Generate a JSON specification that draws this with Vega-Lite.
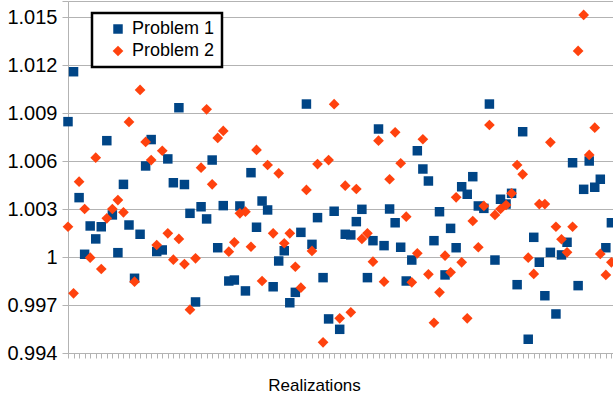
{
  "$schema": "https://vega.github.io/schema/vega-lite/v6.json",
  "autosize": "none",
  "width": 545,
  "height": 352,
  "padding": {"left": 68, "top": 1, "right": 0, "bottom": 45},
  "background": "white",
  "config": {
    "font": "Liberation Sans",
    "view": {"stroke": null},
    "legend": {"strokeWidth": 2.5},
    "axis": {"gridColor": "#b3b3b3", "domainColor": "#b3b3b3", "tickColor": "#b3b3b3", "labelColor": "#000000", "titleColor": "#000000", "labelFont": "Liberation Sans", "titleFont": "Liberation Sans"}
  },
  "data": {
    "values": [
      {"r":1,"Problem 1":1.00846,"Problem 2":1.00189},
      {"r":2,"Problem 1":1.01158,"Problem 2":0.99773},
      {"r":3,"Problem 1":1.00371,"Problem 2":1.00471},
      {"r":4,"Problem 1":1.00017,"Problem 2":1.003},
      {"r":5,"Problem 1":1.00194,"Problem 2":0.99996},
      {"r":6,"Problem 1":1.00113,"Problem 2":1.00621},
      {"r":7,"Problem 1":1.00189,"Problem 2":0.99925},
      {"r":8,"Problem 1":1.00727,"Problem 2":1.00242},
      {"r":9,"Problem 1":1.00263,"Problem 2":1.003},
      {"r":10,"Problem 1":1.00027,"Problem 2":1.00356},
      {"r":11,"Problem 1":1.00454,"Problem 2":1.00279},
      {"r":12,"Problem 1":1.002,"Problem 2":1.00844},
      {"r":13,"Problem 1":0.99867,"Problem 2":0.99846},
      {"r":14,"Problem 1":1.00142,"Problem 2":1.01044},
      {"r":15,"Problem 1":1.00569,"Problem 2":1.00719},
      {"r":16,"Problem 1":1.00734,"Problem 2":1.00606},
      {"r":17,"Problem 1":1.00034,"Problem 2":1.00075},
      {"r":18,"Problem 1":1.00044,"Problem 2":1.00664},
      {"r":19,"Problem 1":1.00613,"Problem 2":1.00148},
      {"r":20,"Problem 1":1.00464,"Problem 2":0.99983},
      {"r":21,"Problem 1":1.00933,"Problem 2":1.00113},
      {"r":22,"Problem 1":1.00453,"Problem 2":0.99956},
      {"r":23,"Problem 1":1.00273,"Problem 2":0.99671},
      {"r":24,"Problem 1":0.99719,"Problem 2":0.99992},
      {"r":25,"Problem 1":1.00314,"Problem 2":1.00558},
      {"r":26,"Problem 1":1.00238,"Problem 2":1.00923},
      {"r":27,"Problem 1":1.00606,"Problem 2":1.00454},
      {"r":28,"Problem 1":1.00058,"Problem 2":1.00744},
      {"r":29,"Problem 1":1.00321,"Problem 2":1.00788},
      {"r":30,"Problem 1":0.9985,"Problem 2":1.00033},
      {"r":31,"Problem 1":0.99856,"Problem 2":1.00092},
      {"r":32,"Problem 1":1.00319,"Problem 2":1.00273},
      {"r":33,"Problem 1":0.99788,"Problem 2":1.00283},
      {"r":34,"Problem 1":1.00527,"Problem 2":1.00064},
      {"r":35,"Problem 1":1.00186,"Problem 2":1.00669},
      {"r":36,"Problem 1":1.0035,"Problem 2":0.9985},
      {"r":37,"Problem 1":1.00294,"Problem 2":1.00575},
      {"r":38,"Problem 1":0.99814,"Problem 2":1.00148},
      {"r":39,"Problem 1":0.99975,"Problem 2":1.00523},
      {"r":40,"Problem 1":1.00039,"Problem 2":1.00086},
      {"r":41,"Problem 1":0.99714,"Problem 2":1.00148},
      {"r":42,"Problem 1":0.99779,"Problem 2":0.99939},
      {"r":43,"Problem 1":1.00154,"Problem 2":0.99808},
      {"r":44,"Problem 1":1.00956,"Problem 2":1.00419},
      {"r":45,"Problem 1":1.00079,"Problem 2":1.00038},
      {"r":46,"Problem 1":1.00246,"Problem 2":1.00581},
      {"r":47,"Problem 1":0.99871,"Problem 2":0.99467},
      {"r":48,"Problem 1":0.99613,"Problem 2":1.00606},
      {"r":49,"Problem 1":1.00286,"Problem 2":1.00955},
      {"r":50,"Problem 1":0.99548,"Problem 2":0.99617},
      {"r":51,"Problem 1":1.00142,"Problem 2":1.00446},
      {"r":52,"Problem 1":1.00138,"Problem 2":0.99654},
      {"r":53,"Problem 1":1.00221,"Problem 2":1.00425},
      {"r":54,"Problem 1":1.00298,"Problem 2":1.00113},
      {"r":55,"Problem 1":0.99871,"Problem 2":1.00148},
      {"r":56,"Problem 1":1.00102,"Problem 2":0.99971},
      {"r":57,"Problem 1":1.008,"Problem 2":1.00727},
      {"r":58,"Problem 1":1.00071,"Problem 2":0.99846},
      {"r":59,"Problem 1":1.003,"Problem 2":1.00486},
      {"r":60,"Problem 1":1.00214,"Problem 2":1.00779},
      {"r":61,"Problem 1":1.00061,"Problem 2":1.00586},
      {"r":62,"Problem 1":0.9985,"Problem 2":1.00252},
      {"r":63,"Problem 1":0.99981,"Problem 2":0.99842},
      {"r":64,"Problem 1":1.00664,"Problem 2":1.00023},
      {"r":65,"Problem 1":1.0055,"Problem 2":1.00736},
      {"r":66,"Problem 1":1.00475,"Problem 2":0.99892},
      {"r":67,"Problem 1":1.00102,"Problem 2":0.99589},
      {"r":68,"Problem 1":1.00283,"Problem 2":0.99779},
      {"r":69,"Problem 1":0.99888,"Problem 2":1.00008},
      {"r":70,"Problem 1":1.00179,"Problem 2":0.99904},
      {"r":71,"Problem 1":1.00058,"Problem 2":1.00373},
      {"r":72,"Problem 1":1.00439,"Problem 2":0.99967},
      {"r":73,"Problem 1":1.00392,"Problem 2":0.99617},
      {"r":74,"Problem 1":1.00502,"Problem 2":1.00225},
      {"r":75,"Problem 1":1.00319,"Problem 2":1.00061},
      {"r":76,"Problem 1":1.00304,"Problem 2":1.00319},
      {"r":77,"Problem 1":1.00956,"Problem 2":1.00825},
      {"r":78,"Problem 1":0.99981,"Problem 2":1.00263},
      {"r":79,"Problem 1":1.00361,"Problem 2":1.003},
      {"r":80,"Problem 1":1.00331,"Problem 2":1.00325},
      {"r":81,"Problem 1":1.00398,"Problem 2":1.00398},
      {"r":82,"Problem 1":0.99827,"Problem 2":1.00575},
      {"r":83,"Problem 1":1.00783,"Problem 2":1.00517},
      {"r":84,"Problem 1":0.99486,"Problem 2":0.99996},
      {"r":85,"Problem 1":1.00123,"Problem 2":0.99894},
      {"r":86,"Problem 1":0.99967,"Problem 2":1.00331},
      {"r":87,"Problem 1":0.99758,"Problem 2":1.00331},
      {"r":88,"Problem 1":1.00029,"Problem 2":1.00717},
      {"r":89,"Problem 1":0.99644,"Problem 2":1.00189},
      {"r":90,"Problem 1":1.00013,"Problem 2":1.00111},
      {"r":91,"Problem 1":1.00092,"Problem 2":1.00029},
      {"r":92,"Problem 1":1.00589,"Problem 2":1.00189},
      {"r":93,"Problem 1":0.99821,"Problem 2":1.01288},
      {"r":94,"Problem 1":1.00423,"Problem 2":1.01513},
      {"r":95,"Problem 1":1.006,"Problem 2":1.00638},
      {"r":96,"Problem 1":1.00436,"Problem 2":1.00808},
      {"r":97,"Problem 1":1.00486,"Problem 2":1.00019},
      {"r":98,"Problem 1":1.00058,"Problem 2":0.99888},
      {"r":99,"Problem 1":1.00214,"Problem 2":0.99967}
    ]
  },
  "transform": [{"fold": ["Problem 1", "Problem 2"], "as": ["series", "value"]}],
  "mark": {"type": "point", "filled": true, "opacity": 1},
  "encoding": {
    "x": {
      "field": "r", "type": "quantitative",
      "scale": {"domain": [1, 99.29], "nice": false, "zero": false},
      "axis": {
        "title": "Realizations", "titleFontSize": 17, "titleFontWeight": "normal",
        "titleX": 246, "titleY": 37, "titleBaseline": "alphabetic",
        "labels": false, "grid": false, "tickSize": 5,
        "values": [1,2,3,4,5,6,7,8,9,10,11,12,13,14,15,16,17,18,19,20,21,22,23,24,25,26,27,28,29,30,31,32,33,34,35,36,37,38,39,40,41,42,43,44,45,46,47,48,49,50,51,52,53,54,55,56,57,58,59,60,61,62,63,64,65,66,67,68,69,70,71,72,73,74,75,76,77,78,79,80,81,82,83,84,85,86,87,88,89,90,91,92,93,94,95,96,97,98,99]
      }
    },
    "y": {
      "field": "value", "type": "quantitative",
      "scale": {"domain": [0.994, 1.016], "nice": false, "zero": false},
      "axis": {
        "title": null, "grid": true, "tickSize": 6, "labelPadding": 5, "labelFontSize": 20,
        "values": [0.994, 0.997, 1, 1.003, 1.006, 1.009, 1.012, 1.015, 1.016],
        "labelExpr": "datum.value > 1.0155 ? '' : format(datum.value, '~g')"
      }
    },
    "color": {
      "field": "series", "type": "nominal",
      "scale": {"domain": ["Problem 1", "Problem 2"], "range": ["#004586", "#ff420e"]},
      "legend": {
        "title": null, "orient": "none", "legendX": 24, "legendY": 12,
        "strokeColor": "#000000", "fillColor": "#ffffff", "cornerRadius": 0,
        "padding": 7, "rowPadding": 4, "symbolOffset": 10, "labelOffset": 5,
        "labelFontSize": 18, "labelColor": "#000000", "symbolStrokeWidth": 0,
        "labelExpr": "datum.label + '\u00a0\u00a0\u00a0'"
      }
    },
    "shape": {
      "field": "series", "type": "nominal",
      "scale": {"domain": ["Problem 1", "Problem 2"], "range": ["square", "diamond"]}
    },
    "size": {
      "field": "series", "type": "nominal",
      "scale": {"domain": ["Problem 1", "Problem 2"], "range": [90, 115]}
    },
    "order": {"field": "series", "type": "ordinal", "sort": "ascending"}
  }
}
